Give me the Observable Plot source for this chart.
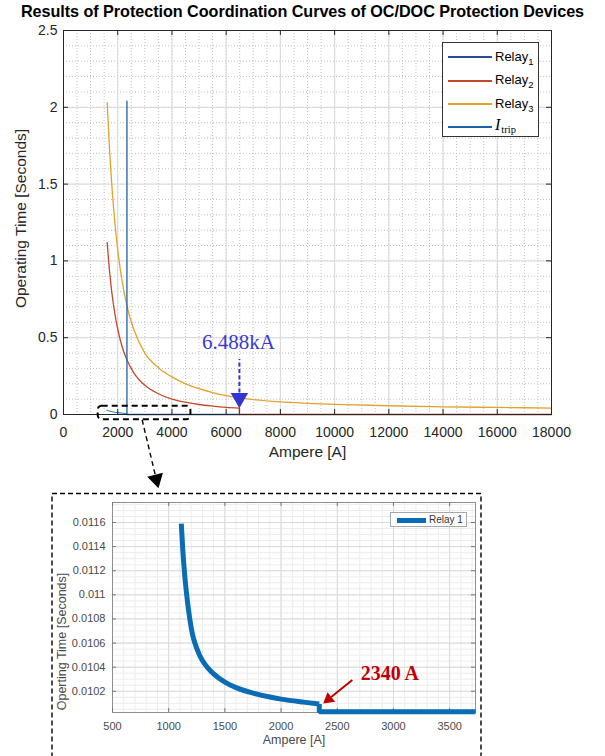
<!DOCTYPE html>
<html>
<head>
<meta charset="utf-8">
<script src="https://cdn.jsdelivr.net/npm/d3@7"></script>
<script src="https://cdn.jsdelivr.net/npm/@observablehq/plot@0.6"></script>
<style>
  html,body{margin:0;padding:0;background:#fff;}
  #wrap{position:relative;width:605px;height:756px;overflow:hidden;font-family:"Liberation Sans",Arial,sans-serif;color:#262626;}
  .abs{position:absolute;}
  #main{left:0;top:0;}
  #inset{left:0;top:490px;}
  #title{position:absolute;left:0;top:1px;width:605px;text-align:center;font-weight:bold;font-size:16.2px;line-height:20px;color:#000;white-space:nowrap;letter-spacing:-0.05px;}
  #legend{left:442px;top:42px;width:97px;height:95px;border:1px solid #333;background:#fff;box-sizing:border-box;}
  .lg-line{position:absolute;left:5px;width:44px;height:1.5px;}
  .lg-text{position:absolute;left:52px;font-size:13px;line-height:14px;white-space:nowrap;color:#000;}
  .lg-text sub{font-size:9.5px;vertical-align:-4px;line-height:0;}
  .serif{font-family:"Liberation Serif","Times New Roman",serif;}
  #insetLegend{left:390px;top:512px;width:77px;height:15px;border:1px solid #a8a8a8;background:#fff;box-sizing:border-box;}
</style>
</head>
<body>
<div id="wrap">
  <div id="main" class="abs"></div>
  <div id="inset" class="abs"></div>
  <div id="title">Results of Protection Coordination Curves of OC/DOC Protection Devices</div>
  <div id="legend" class="abs"></div>
  <div id="insetLegend" class="abs"></div>
</div>
<script>
// ---------------- main chart data ----------------
const xTickValues = [0, 2000, 4000, 6000, 8000, 10000, 12000, 14000, 16000, 18000];
const yTickValues = [0, 0.5, 1, 1.5, 2, 2.5];

const relay3Amps  = [1611, 1700, 1800, 1900, 2000, 2200, 2350, 2600, 3000, 3500, 4000, 4500, 5000, 5500, 6000, 6500, 7000, 8000, 9000, 10000, 12000, 14000, 16000, 18000];
const relay3Times = [2.03, 1.72, 1.45, 1.24, 1.07, 0.83, 0.70, 0.55, 0.40, 0.305, 0.245, 0.20, 0.168, 0.143, 0.123, 0.108, 0.097, 0.082, 0.073, 0.066, 0.057, 0.050, 0.046, 0.042];

const relay2Amps  = [1611, 1700, 1800, 1900, 2000, 2200, 2350, 2600, 3000, 3500, 4000, 4500, 5000, 5500, 6000, 6488];
const relay2Times = [1.12, 0.93, 0.77, 0.65, 0.555, 0.42, 0.352, 0.27, 0.19, 0.135, 0.10, 0.08, 0.065, 0.055, 0.047, 0.042];
const relay2TailAmps  = [6488, 6488, 18000];
const relay2TailTimes = [0.042, 0, 0];

const relay1Amps  = [1600, 1800, 2000, 2200, 2340];
const relay1Times = [0.028, 0.018, 0.012, 0.008, 0.006];

const itripAmps  = [2340, 2340, 6488];
const itripTimes = [2.04, 0, 0];

const faultCurrent = [6488];
const faultLabel = ["6.488kA"];

const seriesNames  = ["Relay1", "Relay2", "Relay3", "Itrip"];
const seriesColors = ["#2b4a98", "#c2492b", "#e3a22a", "#1b62a6"];

// ---------------- inset data ----------------
const insetXTicks = [500, 1000, 1500, 2000, 2500, 3000, 3500];
const insetYTicks = [0.0102, 0.0104, 0.0106, 0.0108, 0.011, 0.0112, 0.0114, 0.0116];
const relay1InsetAmps  = [1112, 1125, 1141, 1160, 1186, 1210, 1233, 1270, 1300, 1350, 1400, 1500, 1600, 1750, 1900, 2000, 2200, 2340];
const relay1InsetTimes = [0.01159, 0.01138, 0.01118, 0.01100, 0.01081, 0.01068, 0.01060, 0.01051, 0.010456, 0.010392, 0.010344, 0.010276, 0.01023, 0.010185, 0.010152, 0.010135, 0.01011, 0.010095];
const relay1FlatAmps  = [2340, 2340, 3730];
const relay1FlatTimes = [0.010095, 0.01003, 0.01003];
const pickupCurrent = [2340];
const pickupLabel = ["2340 A"];

// ---------------- helpers ----------------
const pts = (xs, ys) => xs.map((x, i) => ({x, y: ys[i]}));
const col = Object.fromEntries(seriesNames.map((n, i) => [n, seriesColors[i]]));
const sans = '"Liberation Sans", Arial, sans-serif';
const serif = '"Liberation Serif", "Times New Roman", serif';

// ---------------- main plot ----------------
const mainFrameH = 384, mainFrameW = 488;
const main = Plot.plot({
  width: 605, height: 500,
  marginTop: 30, marginRight: 54, marginBottom: 86, marginLeft: 63,
  style: {fontFamily: sans, fontSize: "14px", color: "#262626", background: "transparent", overflow: "visible"},
  x: {domain: [0, 18000], ticks: xTickValues, tickFormat: d3.format("d"), tickSize: 0, tickPadding: 13, label: null},
  y: {domain: [0, 2.5], ticks: yTickValues, tickFormat: d => String(d), tickSize: 0, tickPadding: 6, label: null},
  marks: [
    Plot.ruleX(d3.range(500, 18000, 500), {stroke: "#c2c2c2", strokeDasharray: "1,2"}),
    Plot.ruleY(d3.range(0.1, 2.5, 0.1), {stroke: "#c2c2c2", strokeDasharray: "1,2"}),
    Plot.ruleX(xTickValues, {stroke: "#d9d9d9"}),
    Plot.ruleY(yTickValues, {stroke: "#d9d9d9"}),
    Plot.line(pts(relay3Amps, relay3Times), {x: "x", y: "y", stroke: col.Relay3, strokeWidth: 1.3, curve: "monotone-x"}),
    Plot.line(pts(relay2Amps, relay2Times), {x: "x", y: "y", stroke: col.Relay2, strokeWidth: 1.3, curve: "monotone-x"}),
    Plot.line(pts(relay2TailAmps, relay2TailTimes), {x: "x", y: "y", stroke: "#a8281c", strokeWidth: 1.4}),
    Plot.line(pts(relay1Amps, relay1Times), {x: "x", y: "y", stroke: "#3d7fc4", strokeWidth: 1.2, curve: "monotone-x"}),
    Plot.line(pts(itripAmps, itripTimes), {x: "x", y: "y", stroke: col.Itrip, strokeWidth: 1.3}),
    Plot.frame({stroke: "#262626"}),
    Plot.ruleX(xTickValues, {stroke: "#262626", insetTop: mainFrameH - 5}),
    Plot.ruleX(xTickValues, {stroke: "#262626", insetBottom: mainFrameH - 5}),
    Plot.ruleY(yTickValues, {stroke: "#262626", insetRight: mainFrameW - 5}),
    Plot.ruleY(yTickValues, {stroke: "#262626", insetLeft: mainFrameW - 5}),
    // zoom box and arrow to inset
    Plot.rect([0], {x1: 1280, x2: 4700, y1: -0.034, y2: 0.054, rx: 4, fill: "none", stroke: "#000", strokeWidth: 2, strokeDasharray: "6,4"}),
    Plot.link([0], {x1: 2900, y1: -0.034, x2: 3380, y2: -0.39, stroke: "#000", strokeWidth: 1.4, strokeDasharray: "5,3.5"}),
    Plot.dot([0], {x: 3420, y: -0.422, symbol: "triangle", r: 6, rotate: 166, fill: "#000", stroke: "none"}),
    // fault current annotation
    Plot.ruleX(faultCurrent, {y1: 0.14, y2: 0.358, stroke: "#3434d0", strokeWidth: 2, strokeDasharray: "4,2.5"}),
    Plot.dot(faultCurrent, {x: d => d, y: 0.107, symbol: "triangle", r: 6.5, rotate: 180, fill: "#3434d0", stroke: "none"}),
    Plot.text(faultLabel, {x: faultCurrent[0], y: 0.469, dx: -1, text: d => d, fontFamily: serif, fontSize: 21, fill: "#3a3ad2"}),
    // axis titles
    Plot.text(["Ampere [A]"], {frameAnchor: "bottom", dy: 42, fontSize: 15.5, fill: "#262626"}),
    Plot.text(["Operating Time [Seconds]"], {frameAnchor: "left", textAnchor: "middle", dx: -42, dy: -4, rotate: -90, fontSize: 15.5, fill: "#262626"})
  ]
});
document.getElementById("main").appendChild(main);

// ---------------- legend (HTML) ----------------
const legendEl = document.getElementById("legend");
const lgY = [13.7, 37.3, 60.7, 83.7];
seriesNames.forEach((name, i) => {
  const line = document.createElement("div");
  line.className = "lg-line";
  line.style.top = Math.round(lgY[i] - 0.7) + "px";
  line.style.background = seriesColors[i];
  legendEl.appendChild(line);
  const t = document.createElement("div");
  t.className = "lg-text";
  if (name === "Itrip") {
    t.style.top = (lgY[i] - 9) + "px";
    t.innerHTML = '<span class="serif" style="font-style:italic;font-size:16px">I</span><span class="serif" style="font-size:10.5px;position:relative;top:3px;left:1px">trip</span>';
  } else {
    t.style.top = (lgY[i] - 7) + "px";
    t.innerHTML = 'Relay<sub>' + name.slice(5) + '</sub>';
  }
  legendEl.appendChild(t);
});

// ---------------- inset plot ----------------
const insetFrameH = 210, insetFrameW = 363;
const inset = Plot.plot({
  width: 605, height: 266,
  marginTop: 12, marginRight: 130, marginBottom: 44, marginLeft: 112,
  style: {fontFamily: sans, fontSize: "11px", color: "#4a4a4a", background: "transparent"},
  x: {domain: [500, 3730], ticks: insetXTicks, tickFormat: d3.format("d"), tickSize: 0, tickPadding: 10, label: null},
  y: {domain: [0.010024, 0.011766], ticks: insetYTicks, tickFormat: d => String(+d.toFixed(4)), tickSize: 0, tickPadding: 7, label: null},
  marks: [
    Plot.frame({stroke: "#000", strokeWidth: 1.4, strokeDasharray: "5,3", insetLeft: -60.5, insetRight: -5.5, insetTop: -9, insetBottom: -60}),
    Plot.ruleX(d3.range(600, 3730, 100), {stroke: "#ececec"}),
    Plot.ruleY(d3.range(0.01005, 0.01176, 0.00005), {stroke: "#ececec"}),
    Plot.ruleX(insetXTicks, {stroke: "#dadada"}),
    Plot.ruleY(insetYTicks, {stroke: "#dadada"}),
    Plot.frame({stroke: "#8f8f8f"}),
    Plot.ruleX(insetXTicks, {stroke: "#777", insetTop: insetFrameH - 4}),
    Plot.ruleX(insetXTicks, {stroke: "#777", insetBottom: insetFrameH - 4}),
    Plot.ruleY(insetYTicks, {stroke: "#777", insetRight: insetFrameW - 4}),
    Plot.ruleY(insetYTicks, {stroke: "#777", insetLeft: insetFrameW - 4}),
    Plot.line(pts(relay1InsetAmps, relay1InsetTimes), {x: "x", y: "y", stroke: "#0a6cb5", strokeWidth: 5, strokeLinecap: "butt", curve: "monotone-x"}),
    Plot.line(pts(relay1FlatAmps, relay1FlatTimes), {x: "x", y: "y", stroke: "#0a6cb5", strokeWidth: 5, strokeLinecap: "butt", strokeLinejoin: "miter"}),
    // 2340 A annotation
    Plot.link(pickupCurrent, {x1: 2634, y1: 0.010294, x2: 2446, y2: 0.010153, stroke: "#c00000", strokeWidth: 2}),
    Plot.dot(pickupCurrent, {x: 2423, y: 0.010135, symbol: "triangle", r: 4.5, rotate: 231, fill: "#c00000", stroke: "none"}),
    Plot.text(pickupLabel, {x: 2708, y: 0.010347, text: d => d, textAnchor: "start", fontFamily: serif, fontWeight: "bold", fontSize: 20, fill: "#c00000"}),
    // axis titles
    Plot.text(["Ampere [A]"], {frameAnchor: "bottom", dy: 31, fontSize: 12.5, fill: "#4a4a4a"}),
    Plot.text(["Operting Time [Seconds]"], {frameAnchor: "left", textAnchor: "middle", dx: -51, dy: 34, rotate: -90, fontSize: 12.5, fill: "#4a4a4a"})
  ]
});
document.getElementById("inset").appendChild(inset);

// inset legend (HTML)
const il = document.getElementById("insetLegend");
il.innerHTML = '<div style="position:absolute;left:6px;top:5px;width:29px;height:5px;background:#0a6cb5"></div>' +
  '<div style="position:absolute;left:38px;top:1px;font-size:10px;line-height:12px;color:#333;white-space:nowrap">Relay 1</div>';
</script>
</body>
</html>
